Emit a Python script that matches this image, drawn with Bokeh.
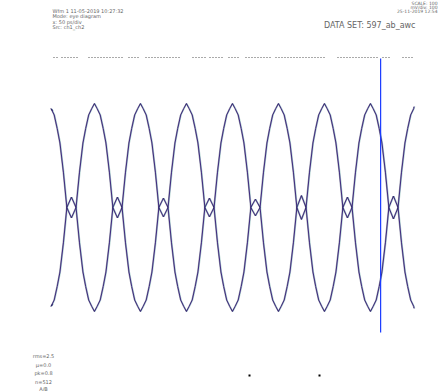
from bokeh.plotting import figure
from bokeh.models import Range1d
from bokeh.core.properties import value
from bokeh.embed import file_html
from bokeh.resources import INLINE

# ---- data (time in ps, voltage in mV) ----
crossing_times = [0, 100, 200, 300, 400, 500, 600, 700]
diamond_half_mv = [40, 40, 36, 36, 32, 46, 40, 44]
edge_offsets = [-44, -37.5, -31, -25, -17.5, -10, 0, 10, 17.5, 25, 31, 37.5, 44]
edge_fraction = [0.95, 0.89, 0.76, 0.62, 0.34, 0.0, 0.0, 0.0, -0.34, -0.62, -0.76, -0.89, -0.95]
peak_mv = 400
trace_start = (-41, 372)
trace_end = (745, 388)
cursor_t = 672
cursor_v = (-481, 573)
ref_segments = [(53, 57), (61, 78), (88, 123), (128, 140), (145, 180), (192, 205),
                (209, 223), (228, 240), (245, 270), (275, 325), (337, 378),
                (382, 390), (402, 413)]
ref_level_px = 57
marker_px = [249, 319]

header_left = ["Wfm 1   11-05-2019 10:27:32", "Mode: eye diagram", "x: 50 ps/div", "Src: ch1_ch2"]
header_right = ["SCALE: 100", "mV/div: 100", "25-11-2019 12:54"]
data_set = "DATA SET: 597_ab_awc"
footer = ["rms=2.5", "μ=0.0", "pk=0.8", "n=512", "A/B"]

# ---- pixel helpers (image px -> data) ----
PX_T0, PX_PER_PS = 71.0, 0.46
PY_V0, PY_PER_MV = 207.0, 0.26
def tx(px):
    return (px - PX_T0) / PX_PER_PS
def vy(py):
    return (PY_V0 - py) / PY_PER_MV

W, H = 448, 391
p = figure(width=W, height=H, output_backend="svg", toolbar_location=None,
           x_range=Range1d(tx(0), tx(W)), y_range=Range1d(vy(H), vy(0)),
           min_border=0)
p.axis.visible = False
p.grid.visible = False
p.outline_line_color = None
p.background_fill_color = "white"
p.border_fill_color = "white"

# build trace A from read edge shapes
ta, va = [trace_start[0]], [trace_start[1]]
for k, c in enumerate(crossing_times):
    sgn = 1 if k % 2 == 0 else -1   # A falls at even crossings
    for off, fr in zip(edge_offsets, edge_fraction):
        ta.append(c + off)
        if off == 0:
            va.append(diamond_half_mv[k])
        else:
            va.append(sgn * peak_mv * fr)
    if k < len(crossing_times) - 1:
        ta.append(c + 50)
        va.append(-sgn * peak_mv)
ta.append(trace_end[0]); va.append(trace_end[1])
vb = [-v for v in va]

for vals in (va, vb):
    p.line([t + 1.2 for t in ta], vals, line_color="#2a8a7c", line_width=0.8, line_alpha=0.5)
    p.line(ta, vals, line_color="#45288c", line_width=1, line_alpha=0.95)
    p.line([t - 1.0 for t in ta], vals, line_color="#141440", line_width=0.6, line_alpha=0.7)

# cursor
p.segment(x0=[cursor_t], y0=[cursor_v[0]], x1=[cursor_t], y1=[cursor_v[1]],
          line_color="#1a3cff", line_width=1.2)

# dotted reference line
p.multi_line([[tx(a), tx(b)] for a, b in ref_segments],
             [[vy(ref_level_px)] * 2 for _ in ref_segments],
             line_color="#555555", line_width=1, line_dash="1 2")

# small markers at bottom
p.scatter([tx(x) for x in marker_px], [vy(375)] * len(marker_px), marker="square",
          size=2, fill_color="black", line_color=None)

font = value("DejaVu Sans")
p.text([tx(52)] * 4, [vy(y) for y in (10, 15.5, 21, 26.5)], text=header_left,
       text_font=font, text_font_size="5px", text_color="#666666", text_baseline="middle")
p.text([tx(437)] * 3, [vy(y) for y in (3, 7, 11)], text=header_right,
       text_font=font, text_font_size="4.5px", text_color="#666666",
       text_baseline="middle", text_align="right")
p.text([tx(415)], [vy(25)], text=[data_set], text_font=font, text_font_size="8px",
       text_color="#666666", text_baseline="middle", text_align="right")
p.text([tx(43)] * 5, [vy(y) for y in (355.5, 364, 372.5, 381, 388.5)], text=footer,
       text_font=font, text_font_size="5px", text_color="#666666",
       text_baseline="middle", text_align="center")

open("out.html", "w").write(file_html(p, INLINE))
